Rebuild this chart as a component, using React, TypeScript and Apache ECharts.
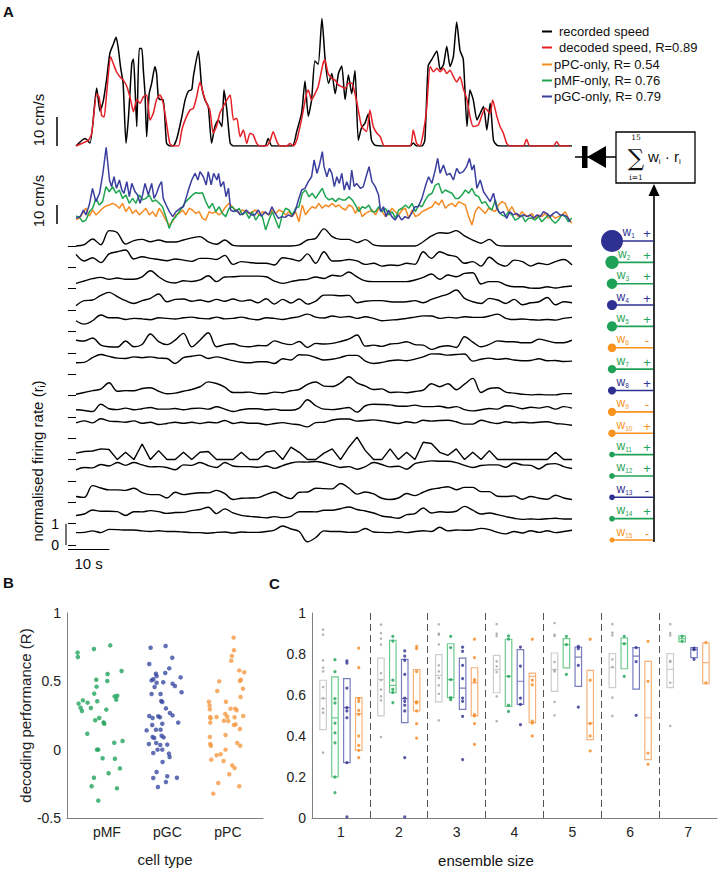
import { useEffect, useRef } from 'react';
import * as echarts from 'echarts';

const FONT = "'Liberation Sans', Arial, Helvetica, sans-serif";
const SERIF = "'DejaVu Serif', 'Liberation Serif', serif";

// ---------------- Panel A : speed traces (time s, speed cm/s) ----------------
const RECORDED_SPEED = [[0,0],[2.2,2.6],[3.4,1],[5.0,20],[5.8,12],[6.6,15.5],[7.4,23],[8.2,32],[9.0,35],[9.7,37.5],[10.2,34],[10.8,27],[11.4,21.6],[12.1,1],[12.7,10],[13.5,28.5],[13.9,30],[14.3,19.5],[14.7,6.7],[15.3,33.6],[15.9,33.6],[16.3,26],[16.7,18],[17.1,3.2],[17.7,18],[18.3,21.6],[19.1,27.4],[19.5,25],[19.9,17],[20.3,16],[21.1,16],[21.9,1],[22.7,0],[23.5,0],[24.4,2.6],[25.6,10],[26.4,15.9],[27.2,18.9],[28.0,19.5],[28.4,24],[29.6,32.8],[30.4,20.5],[31.2,15.9],[32.0,13.6],[32.8,1],[33.6,6.7],[34.4,9],[35.3,6.7],[35.8,19.3],[36.5,12.4],[37.3,1],[38.1,0],[45.7,0],[46.5,2.6],[47.4,0],[52.3,0],[53.4,5],[54.6,11.5],[55.4,22.4],[56.2,10.3],[57.0,16],[57.8,29.3],[58.6,28.2],[59.5,44],[60.3,29.3],[61.1,21.6],[61.9,25],[62.7,18],[63.5,25],[64.3,27.6],[65.1,16],[65.9,24.5],[66.7,18],[67.5,26],[68.3,2],[69.1,6.4],[69.9,7.8],[70.7,11],[71.5,2],[72.3,0.3],[74.3,0],[80.8,0],[81.6,1],[82.4,0],[83.7,0],[84.4,2],[85.2,27.6],[86.1,29.9],[87.3,32.8],[88.1,26.4],[88.9,28],[89.7,34.3],[90.5,27.4],[91.3,30.8],[92.1,42.8],[92.9,33],[93.7,29.9],[94.6,6.7],[95.3,19.3],[96.1,16],[97.0,9],[97.8,11.3],[98.6,13.6],[99.4,5.5],[100.2,14.7],[101.0,2],[101.8,0.3],[102.6,0],[120,0]];

const DECODED_SPEED = [[0,0],[3.0,2],[3.8,4.4],[5.0,18],[5.6,16.8],[6.2,10.6],[6.8,10],[7.4,18],[8.4,30.8],[9.0,28.5],[9.8,25.6],[10.6,23.9],[11.4,22.8],[12.3,20.5],[13.2,16],[13.9,11.8],[14.7,16],[15.5,14.7],[16.3,17],[17.1,17.6],[17.9,8.9],[18.7,11.3],[19.5,16],[20.3,17.6],[21.1,14.7],[21.9,7.8],[22.7,0.9],[23.5,0],[24.8,0],[25.6,5.5],[26.4,9],[27.6,12.4],[28.4,13],[29.2,17],[30.0,22.1],[30.8,18],[31.6,14.7],[32.4,12.4],[33.2,4.4],[34.0,6.7],[34.8,11.3],[35.6,13.6],[36.5,15.9],[37.3,17.6],[38.1,9],[38.9,9.6],[39.7,3.2],[40.5,5.5],[41.3,0.9],[42.1,4.4],[42.9,3.8],[43.7,0.9],[44.5,0],[46.1,0],[47.0,2],[47.7,4.9],[48.6,1.5],[49.4,0],[51.0,0],[51.8,0.9],[52.6,0],[53.4,2],[54.2,6.7],[55.0,12.4],[55.6,17],[56.2,19.3],[57.0,15.9],[57.8,18],[58.6,20.5],[59.7,28],[60.2,29.7],[61.0,25],[61.9,23.3],[62.7,22.7],[63.5,21],[64.3,20.5],[65.1,19.8],[65.9,21.6],[66.7,21.6],[67.5,18],[68.3,12.4],[69.1,6.7],[70.3,5],[71.1,12.4],[71.9,6.7],[72.8,4.4],[73.6,3.2],[74.4,0.3],[75.2,0],[80.8,0],[81.6,5.5],[82.4,0.9],[83.2,0],[84.0,4.4],[84.8,12.4],[85.7,27.4],[86.5,25.6],[87.3,26.8],[88.1,25.6],[88.9,26.8],[89.7,25],[90.5,26.1],[91.3,23.9],[92.1,22.1],[92.9,23.9],[93.7,19.8],[94.6,16],[95.3,10.3],[96.1,6.7],[97.3,7.2],[98.2,10.6],[99.0,13],[100.2,11.3],[100.8,15.9],[101.8,10.3],[102.6,6.7],[103.4,4.4],[104.2,0.9],[105.0,0],[108.2,0],[109.0,2.3],[109.8,0],[115.5,0],[116.3,1.5],[117.1,0],[119.5,0]];

// decoders using a single cell type (cm/s)
const PGC_ONLY = [[0,11.4],[1.1,12.6],[1.8,15.8],[2.4,13.2],[3.2,18.4],[4.0,27.2],[4.8,20.2],[5.7,24.6],[6.5,35.1],[7.3,48.8],[8.1,31.6],[8.6,28.1],[9.2,33.3],[9.8,27.2],[10.5,31.6],[11.1,26.3],[11.6,24.6],[12.3,30.7],[12.9,22.8],[13.5,29.8],[14.3,25.4],[14.9,23.7],[15.5,19.3],[16.1,23.7],[16.7,29.8],[17.5,23.7],[18.3,29.8],[18.9,21.9],[19.5,24.6],[20.2,28.9],[20.7,30.7],[21.1,21.9],[21.8,18.4],[22.6,14.9],[23.4,12.3],[24.2,14.9],[25.2,16.7],[26.0,17.5],[26.6,21.9],[27.2,26.3],[28.0,31.6],[28.8,35.1],[29.5,31.6],[30.0,36.0],[30.8,33.3],[31.5,29.0],[32.0,36.0],[32.7,29.0],[33.3,35.1],[34.1,31.6],[34.5,35.1],[35.0,28.1],[35.7,30.7],[36.3,22.8],[36.9,27.2],[37.4,15.8],[38.1,14.9],[38.9,15.8],[39.7,13.2],[40.5,14.0],[41.2,15.8],[42.0,14.0],[42.5,13.2],[43.3,13.2],[44.1,15.8],[44.9,12.6],[45.8,14.9],[46.6,13.2],[47.4,17.5],[48.2,14.0],[49.0,11.4],[49.8,12.3],[50.6,11.9],[51.4,13.2],[52.2,12.3],[53.0,14.9],[53.8,21.1],[54.6,26.3],[55.4,27.2],[56.2,30.7],[57.0,33.3],[57.6,42.1],[58.3,35.1],[58.9,39.5],[59.6,46.5],[60.0,38.6],[60.7,33.3],[61.3,37.7],[61.9,35.1],[62.5,28.1],[63.1,33.3],[63.7,29.8],[64.3,35.1],[64.9,26.3],[65.5,30.7],[66.2,26.3],[66.7,36.8],[67.3,28.1],[67.9,29.8],[68.8,27.2],[69.5,28.1],[70.3,34.2],[70.9,38.6],[71.6,30.7],[72.4,28.1],[73.2,23.7],[73.7,14.9],[74.4,17.5],[75.0,12.3],[75.6,15.8],[76.4,12.3],[77.2,10.5],[78.0,13.2],[78.8,10.5],[79.6,12.3],[80.4,11.4],[81.2,14.0],[82.0,17.5],[82.8,17.5],[83.7,21.9],[84.5,28.1],[85.3,33.3],[86.1,29.8],[86.9,36.8],[87.5,43.0],[88.1,35.1],[88.9,39.5],[89.7,34.2],[90.5,35.1],[91.3,31.6],[92.1,37.7],[92.8,35.1],[93.7,36.0],[94.5,38.6],[95.2,43.0],[95.8,36.8],[96.3,39.5],[97.0,27.2],[97.8,31.6],[98.6,25.4],[99.4,22.8],[100.2,20.2],[101.0,24.6],[101.8,16.7],[102.6,14.0],[103.4,14.9],[104.2,11.4],[105.0,14.9],[105.8,13.2],[106.6,14.0],[107.5,12.3],[108.3,13.2],[109.1,12.3],[109.9,13.2],[110.7,11.4],[111.5,13.2],[112.3,12.3],[113.1,14.9],[113.9,14.0],[114.7,12.3],[115.5,14.0],[116.3,14.9],[117.1,13.2],[117.9,13.2],[118.8,12.3],[119.6,9.6]];

const DECODER_STEP_S = 0.805; // sampling step of the two traces below
const PMF_ONLY = [12.6,11.9,9.6,10.5,14.9,16.7,21.9,18.4,20.2,28.1,25.4,28.1,24.6,26.3,21.9,23.7,19.3,21.9,19.3,23.7,21.1,21.9,23.7,20.2,21.1,19.3,17.5,12.3,6.1,10.5,12.3,14.9,17.5,20.2,21.9,23.7,24.9,24.6,24.9,20.2,16.7,19.3,14.9,17.5,14.0,12.3,16.7,17.5,14.9,16.7,13.2,14.9,11.4,14.9,10.5,13.2,12.3,5.3,10.5,14.9,10.5,6.1,13.2,16.7,15.8,13.2,16.7,17.5,
  24.6,26.3,22.8,24.6,21.9,24.6,27.2,22.8,21.1,21.9,20.2,21.9,21.1,21.1,22.8,21.1,18.4,14.9,17.5,16.7,18.4,14.9,14.9,17.5,14.9,16.7,13.2,14.9,11.4,15.8,16.7,18.4,16.7,19.3,14.9,18.4,17.5,21.1,23.7,24.6,28.9,29.8,24.6,26.3,25.4,24.6,21.9,21.9,23.7,26.3,24.6,27.2,23.7,22.8,19.3,20.2,17.5,15.8,21.1,14.9,13.2,12.3,14.9,13.2,10.5,11.4,13.2,9.6,11.4,11.4,10.5,12.3,9.6,11.4,13.2,10.5,8.8,10.5,13.2,12.3,9.6,11.4];
const PPC_ONLY = [10.9,11.4,14.0,16.7,12.6,15.8,13.2,14.9,16.7,17.9,18.4,19.3,18.4,16.7,19.3,14.9,17.5,14.0,15.8,13.2,14.9,16.7,13.2,14.9,12.3,16.7,14.0,10.5,7.9,9.6,13.2,14.0,15.8,13.2,16.7,15.8,14.0,14.9,11.4,10.5,14.9,14.0,14.9,13.2,14.9,17.5,19.3,17.5,15.8,14.0,15.8,14.9,14.0,14.9,15.8,13.2,14.9,14.0,13.2,15.8,14.0,15.8,14.9,13.2,14.9,12.3,14.9,9.6,
  18.4,13.2,15.8,17.5,16.7,19.3,16.7,18.4,17.5,19.3,17.5,18.4,16.7,15.8,18.4,17.5,14.0,17.5,12.3,14.0,14.9,15.8,13.2,16.7,14.9,12.3,14.0,16.7,14.9,13.2,15.8,16.7,11.4,15.8,12.3,13.2,14.9,15.8,16.7,17.5,20.2,18.4,21.1,16.7,18.4,19.3,17.5,20.2,19.3,18.4,12.3,7.9,14.9,17.5,15.8,14.0,16.7,15.8,14.9,18.4,20.2,19.3,14.9,17.5,14.0,12.3,14.9,13.2,12.3,14.0,11.4,13.2,12.3,14.0,11.4,13.2,11.4,12.3,13.2,14.9,11.4,8.8];

// normalised firing rates of the 15 cells, sampled every 2 s
const FR_TIMES = [0,2,4,6,8,10,12,14,16,18,20,22,24,26,28,30,32,34,36,38,40,42,44,46,48,50,52,54,56,58,60,62,64,66,68,70,72,74,76,78,80,82,84,86,88,90,92,94,96,98,100,102,104,106,108,110,112,114,116,118,120];
const FR1 = [0,0.06,0.33,0.06,0.72,0.62,0.09,0.25,0.31,0.2,0.28,0.19,0.19,0.28,0.38,0.44,0.19,0.08,0.28,0.03,0,0,0,0,0,0,0,0.05,0.28,0.36,0.8,0.44,0.31,0.31,0.16,0.3,0.05,0,0,0,0,0,0.2,0.47,0.62,0.6,0.72,0.47,0.28,0.13,0.31,0.03,0,0,0,0,0,0,0,0,0];
const FR2 = [0.61,0.3,0.45,0.22,0.63,0.73,0.81,0.39,0.5,0.42,0.37,0.31,0.39,0.34,0.28,0.42,0.42,0.37,0.56,0.14,0.27,0.23,0.19,0.19,0.11,0.45,0.39,0.3,0.63,0.19,0.73,0.3,0.31,0.37,0.3,0.14,0.19,0.06,0.11,0.09,0.19,0.14,0.73,0.42,0.73,0.58,0.5,0.19,0.27,0.06,0.47,0.19,0.06,0.34,0.27,0.06,0.19,0.13,0.27,0.37,0.11];
const FR3 = [0.25,0.36,0.47,0.53,0.44,0.5,0.44,0.44,0.56,0.84,0.56,0.33,0.27,0.37,0.34,0.41,0.61,0.33,0.55,0.56,0.59,0.59,0.59,0.56,0.36,0.25,0.33,0.41,0.44,0.55,0.48,0.63,0.59,0.78,0.55,0.37,0.33,0.33,0.33,0.33,0.33,0.41,0.53,0.69,0.44,0.64,0.56,0.72,0.75,0.22,0.33,0.33,0.17,0.09,0.09,0.03,0.02,0.09,0.03,0.09,0.13];
const FR4 = [0.2,0.44,0.47,0.69,0.83,0.63,0.44,0.31,0.44,0.55,0.75,0.39,0.5,0.52,0.41,0.47,0.39,0.5,0.41,0.52,0.42,0.47,0.34,0.53,0.28,0.5,0.33,0.52,0.28,0.42,0.7,0.7,0.67,0.69,0.34,0.41,0.44,0.44,0.39,0.38,0.39,0.44,0.34,0.5,0.63,0.75,0.94,0.55,0.39,0.31,0.55,0.47,0.31,0.5,0.25,0.34,0.39,0.59,0.25,0.39,0.34];
const FR5 = [0.5,0.34,0.5,0.77,0.64,0.64,0.56,0.61,0.59,0.55,0.64,0.61,0.58,0.64,0.67,0.61,0.59,0.67,0.59,0.61,0.67,0.59,0.55,0.64,0.61,0.56,0.63,0.69,0.81,0.67,0.63,0.72,0.66,0.7,0.61,0.69,0.61,0.5,0.53,0.56,0.61,0.67,0.73,0.72,0.61,0.66,0.63,0.69,0.66,0.66,0.72,0.81,0.61,0.56,0.58,0.55,0.53,0.56,0.53,0.61,0.66];
const FR6 = [0.59,0.55,0.69,0.36,0.28,0.27,0.55,0.28,0.39,0.88,0.52,0.38,0.59,0.91,0.28,0.59,0.94,0.28,0.38,0.42,0.31,0.28,0.34,0.33,0.56,0.44,0.38,0.53,0.25,0.44,0.41,0.44,0.53,0.64,0.83,0.31,0.36,0.3,0.41,0.44,0.52,0.38,0.36,0.16,0.28,0.33,0.25,0.75,0.5,0.28,0.39,0.56,0.52,0.52,0.47,0.47,0.64,0.56,0.47,0.47,0.59];
const FR7 = [0.53,0.55,0.77,0.92,0.83,0.75,0.73,0.81,0.77,0.81,0.75,0.73,0.5,0.77,0.84,0.89,0.73,0.81,0.73,0.63,0.56,0.53,0.58,0.58,0.5,0.72,0.66,0.91,0.89,0.78,0.66,0.7,0.78,0.88,0.88,0.61,0.5,0.55,0.63,0.66,0.63,0.7,0.81,0.95,0.94,0.89,0.92,0.94,0.61,0.7,0.75,0.69,0.73,0.66,0.63,0.64,0.72,0.63,0.64,0.59,0.61];
const FR8 = [0.06,0.14,0.23,0.3,0.6,0.2,0.23,0.22,0.33,0.36,0.2,0.08,0.11,0.2,0.28,0.41,0.64,0.56,0.39,0.14,0.14,0.16,0.09,0.08,0.16,0.13,0.22,0.28,0.52,0.63,0.44,0.42,0.59,0.88,0.59,0.44,0.28,0.31,0.14,0.16,0.13,0.19,0.25,0.55,0.41,0.55,0.27,0.53,0.8,0.14,0.33,0.36,0.16,0.11,0.06,0.03,0.05,0.03,0.03,0.09,0.09];
const FR9 = [0.33,0.3,0.25,0.59,0.38,0.34,0.41,0.33,0.38,0.44,0.36,0.36,0.39,0.33,0.39,0.41,0.36,0.47,0.36,0.25,0.33,0.38,0.38,0.33,0.36,0.31,0.31,0.41,0.8,0.52,0.36,0.34,0.38,0.44,0.22,0.52,0.59,0.58,0.56,0.5,0.5,0.55,0.48,0.48,0.5,0.42,0.48,0.34,0.28,0.33,0.39,0.36,0.52,0.48,0.38,0.45,0.41,0.48,0.36,0.48,0.41];
const FR10 = [0.72,0.81,0.72,0.91,0.8,0.78,0.75,0.81,0.7,0.75,0.64,0.69,0.75,0.7,0.75,0.69,0.75,0.72,0.83,0.69,0.75,0.7,0.7,0.63,0.69,0.73,0.67,0.63,0.53,0.73,0.75,0.85,0.9,0.9,0.8,0.83,0.86,0.81,0.75,0.69,0.77,0.72,0.84,0.8,0.83,0.84,0.77,0.66,0.66,0.84,0.75,0.69,0.77,0.72,0.75,0.72,0.75,0.77,0.69,0.66,0.61];
const FR11 = [0.3,0.38,0.4,0.5,0.47,0,0.34,0,0.73,0,0.42,0,0,0.34,0,0.34,0.38,0,0,0,0.34,0,0,0.34,0.42,0,0.58,0.34,0,0,0.3,0.5,0,0.58,1.05,0.42,0,0,0.5,0,0.34,0,0.81,0.75,0.34,0.2,0.5,0,0.34,0,0.42,0,0,0,0,0,0,0,0.34,0,0];
const FR12 = [0.52,0.63,0.61,0.77,0.7,0.86,0.73,0.86,0.75,0.66,0.67,0.63,0.52,0.75,0.73,0.86,0.72,0.63,0.86,0.7,0.67,0.67,0.64,0.7,0.59,0.72,0.84,0.89,0.88,0.91,0.84,0.73,0.63,0.67,0.55,0.67,0.86,0.77,0.66,0.69,0.55,0.81,0.89,0.94,0.92,0.92,0.86,0.73,0.63,0.72,0.75,0.75,0.64,0.84,0.75,0.73,0.56,0.78,0.81,0.67,0.58];
const FR13 = [0.27,0.23,0.78,0.67,0.58,0.58,0.56,0.66,0.45,0.36,0.36,0.2,0.47,0.36,0.41,0.45,0.44,0.56,0.41,0.13,0.19,0.2,0.22,0.36,0.48,0.3,0.17,0.47,0.48,0.66,0.64,0.63,0.88,0.67,0.38,0.48,0.39,0.19,0.13,0.2,0.41,0.31,0.47,0.61,0.67,0.73,0.59,0.7,0.7,0.5,0.5,0.28,0.27,0.3,0.14,0.27,0.19,0.14,0.33,0.2,0.13];
const FR14 = [0.38,0.45,0.64,0.58,0.58,0.56,0.38,0.56,0.55,0.61,0.56,0.48,0.52,0.53,0.61,0.66,0.77,0.47,0.69,0.5,0.39,0.34,0.31,0.27,0.33,0.28,0.34,0.56,0.56,0.55,0.63,0.63,0.7,0.78,0.66,0.59,0.5,0.36,0.31,0.25,0.42,0.47,0.73,0.5,0.56,0.53,0.58,0.81,0.63,0.45,0.5,0.42,0.33,0.25,0.2,0.22,0.2,0.23,0.25,0.22,0.22];
const FR15 = [0.58,0.59,0.66,0.58,0.73,0.72,0.7,0.7,0.66,0.63,0.67,0.63,0.63,0.61,0.58,0.58,0.55,0.59,0.61,0.56,0.61,0.59,0.59,0.63,0.7,0.89,0.75,0.63,0.15,0.35,0.66,0.63,0.63,0.59,0.61,0.77,0.61,0.59,0.58,0.63,0.58,0.63,0.67,0.63,0.83,0.66,0.7,0.69,0.7,0.78,0.72,0.59,0.52,0.63,0.56,0.67,0.59,0.67,0.58,0.63,0.69];
const FIRING_RATES = [FR1, FR2, FR3, FR4, FR5, FR6, FR7, FR8, FR9, FR10, FR11, FR12, FR13, FR14, FR15];
const SPIKY_CELLS = [11];

// decoder weights (relative magnitude, sign, cell type)
const WEIGHT_MAGNITUDES = [1.0, 0.6, 0.48, 0.46, 0.46, 0.39, 0.38, 0.37, 0.37, 0.34, 0.26, 0.26, 0.26, 0.26, 0.23];
const WEIGHT_SIGNS = ['+', '+', '+', '+', '+', '-', '+', '+', '-', '+', '+', '+', '-', '+', '-'];
const WEIGHT_TYPES = ['pGC', 'pMF', 'pMF', 'pGC', 'pMF', 'pPC', 'pMF', 'pGC', 'pPC', 'pPC', 'pMF', 'pMF', 'pGC', 'pMF', 'pPC'];

const NAME_REC = 'recorded speed';
const NAME_DEC = 'decoded speed, R=0.89';
const NAME_PPC = 'pPC-only, R= 0.54';
const NAME_PMF = 'pMF-only, R= 0.76';
const NAME_PGC = 'pGC-only, R= 0.79';

// ---------------- Panel B : single-cell decoding performance ----------------
const CELL_TYPES = ['pMF', 'pGC', 'pPC'];
const B_PMF = [[0.515,0.71],[0.52,0.678],[0.785,0.737],[1.055,0.763],[1.242,0.576],[1.011,0.554],[0.824,0.512],[0.829,0.461],[1.006,0.502],[0.79,0.41],[1.127,0.39],[1.171,0.395],[1.154,0.366],[0.531,0.337],[0.603,0.361],[0.565,0.307],[0.587,0.283],[0.735,0.305],[0.84,0.354],[0.68,0.344],[0.989,0.293],[0.807,0.215],[0.873,0.232],[0.945,0.2],[0.956,0.19],[0.675,0.117],[1.121,0.051],[1.259,0.063],[0.835,0],[0.857,0],[0.928,-0.063],[1.132,-0.066],[0.785,-0.205],[1.028,-0.173],[1.215,-0.137],[0.747,-0.268],[1.165,-0.283],[0.857,-0.373]];
const B_PGC = [[1.722,0.746],[1.97,0.759],[2.08,0.673],[1.7,0.627],[2.03,0.595],[1.81,0.556],[1.964,0.561],[1.821,0.539],[1.766,0.515],[1.738,0.507],[1.821,0.49],[1.788,0.459],[1.931,0.493],[2.085,0.483],[2.124,0.466],[2.218,0.529],[2.234,0.42],[1.738,0.407],[1.887,0.407],[1.898,0.356],[1.915,0.349],[1.975,0.302],[1.7,0.246],[1.755,0.232],[1.848,0.244],[1.876,0.237],[2.041,0.268],[2.085,0.251],[2.178,0.198],[1.749,0.18],[1.915,0.19],[1.656,0.141],[1.81,0.146],[1.887,0.146],[1.904,0.102],[1.755,0.093],[1.782,0.085],[1.937,0.09],[1.694,0.041],[1.815,0.049],[1.882,0.034],[1.997,0.037],[1.837,0],[1.915,0],[1.766,-0.024],[2.025,-0.029],[2.036,-0.054],[1.92,-0.09],[1.821,-0.163],[2.157,-0.205],[1.766,-0.207],[1.997,-0.195],[1.975,-0.237],[1.843,-0.273]];
const B_PPC = [[3.094,0.82],[3.1,0.727],[3.066,0.685],[3.055,0.651],[3.187,0.58],[3.27,0.566],[2.857,0.5],[3.215,0.512],[3.198,0.502],[3.248,0.446],[2.824,0.429],[3.209,0.385],[2.686,0.351],[2.697,0.322],[2.967,0.351],[3.044,0.3],[3.121,0.3],[3.143,0.288],[2.702,0.295],[2.708,0.239],[2.713,0.229],[2.708,0.198],[2.813,0.239],[2.989,0.241],[2.956,0.261],[3.11,0.237],[3.253,0.246],[3.006,0.21],[2.934,0.212],[3.127,0.185],[3.099,0.18],[3.198,0.151],[2.702,0.093],[2.961,0.107],[3.154,0.049],[3.204,0.029],[2.719,0.029],[2.708,0.041],[2.813,-0.041],[2.879,-0.034],[2.961,0],[2.725,-0.073],[2.928,-0.083],[3.072,-0.115],[3.11,-0.134],[3.022,-0.18],[2.84,-0.244],[3.187,-0.268],[2.758,-0.322]];

// ---------------- Panel C : ensemble decoding performance ----------------
const ENSEMBLE_SIZES = [1, 2, 3, 4, 5, 6, 7];
const C_GROUPS = ['mixed', 'pMF', 'pGC', 'pPC'];
// [q1, median, q3] per ensemble size
const BOX_MIXED = [[0.431,0.582,0.672],[0.498,0.676,0.78],[0.566,0.696,0.797],[0.611,0.724,0.793],[0.618,0.725,0.805],[0.636,0.733,0.802],[0.636,0.725,0.802]];
const BOX_PMF = [[0.2,0.488,0.688],[0.611,0.647,0.867],[0.587,0.675,0.85],[0.545,0.691,0.872],[0.732,0.846,0.875],[0.728,0.85,0.878],[0.859,0.875,0.888]];
const BOX_PGC = [[0.27,0.538,0.68],[0.465,0.582,0.774],[0.53,0.634,0.78],[0.554,0.667,0.821],[0.642,0.785,0.834],[0.629,0.79,0.831],[0.782,0.821,0.831]];
const BOX_PPC = [[0.33,0.509,0.587],[0.522,0.566,0.724],[0.498,0.659,0.733],[0.465,0.691,0.707],[0.382,0.463,0.72],[0.285,0.489,0.764],[0.655,0.758,0.855]];
const DOTS_MIXED = [[0.919,0.894,0.769,0.733,0.715,0.639,0.585,0.533,0.514,0.319],[0.943,0.902,0.875,0.846,0.707,0.672,0.626,0.593,0.574,0.395],[0.945,0.899,0.894,0.847,0.745,0.715,0.683,0.647,0.606,0.476],[0.946,0.899,0.888,0.764,0.74,0.712,0.593,0.472],[0.951,0.894,0.888,0.761,0.72,0.715,0.566,0.501],[0.946,0.904,0.891,0.774,0.737,0.587,0.498],[0.946,0.902,0.891,0.766,0.761,0.66,0.449]];
const DOTS_PMF = [[0.772,0.714,0.582,0.561,0.463,0.415,0.367,0.2,0.124],[0.886,0.863,0.672,0.628,0.613,0.563],[0.886,0.831,0.675,0.587,0.577],[0.888,0.873,0.691,0.55,0.52],[0.886,0.846,0.701],[0.886,0.85,0.691],[0.886,0.863]];
const DOTS_PGC = [[0.766,0.756,0.634,0.538,0.522,0.489,0.27,0.005],[0.815,0.79,0.769,0.701,0.585,0.569,0.55,0.522,0.294,0.005],[0.833,0.813,0.745,0.68,0.585,0.569,0.496,0.285],[0.834,0.741,0.585,0.554,0.455],[0.837,0.826,0.745,0.541],[0.831,0.763,0.501],[0.829,0.821,0.774]];
const DOTS_PPC = [[0.829,0.733,0.582,0.569,0.525,0.506,0.4,0.354,0.33,0.294],[0.837,0.826,0.714,0.566,0.561,0.522,0.46,0.39],[0.872,0.782,0.675,0.667,0.504,0.498,0.46,0.359],[0.872,0.672,0.65,0.472,0.463,0.4],[0.872,0.672,0.46,0.4,0.327],[0.862,0.667,0.317,0.262],[0.855,0.659]];

// ---------------- styles ----------------
const TYPE_COLORS = { pMF: '#1fa257', pGC: '#2e3192', pPC: '#f7931e', mixed: '#9d9d9d' };
const TRACE_COLORS = { pMF: '#1fa450', pGC: '#3a3e9e', pPC: '#f58a22' };
const B_COLORS = { pMF: '#22a35c', pGC: '#3a4ba2', pPC: '#f49a45' };
const BOX_COLORS = { mixed: '#cdcdcd', pMF: '#6fca8e', pGC: '#787cbf', pPC: '#f7b27b' };
const DOT_COLORS = { mixed: '#a3a3a3', pMF: '#1fa257', pGC: '#2e3192', pPC: '#f58a22' };
const C_OFFSETS = [-0.308, -0.103, 0.103, 0.308];
const TRACE_GAP = 1; // vertical spacing of stacked firing-rate traces (normalised units)

export default function App() {
  const ref = useRef(null);
  useEffect(() => {
    const chart = echarts.init(ref.current, null, { renderer: 'svg' });
    const nCells = FIRING_RATES.length;
    const axisGray = { show: true, onZero: false, lineStyle: { color: '#7f7f7f', width: 1 } };
    const tickLabel = { fontSize: 14, color: '#222', fontFamily: FONT };

    const firingSeries = FIRING_RATES.map((vals, k) => ({
      type: 'line', name: 'r' + (k + 1), xAxisIndex: 2, yAxisIndex: 2,
      data: vals.map((v, i) => [FR_TIMES[i], v + (nCells - 1 - k) * TRACE_GAP]),
      showSymbol: false, clip: false, silent: true,
      smooth: SPIKY_CELLS.includes(k + 1) ? false : 0.35,
      lineStyle: { color: '#000', width: 1.4 }, itemStyle: { color: '#000' },
    }));

    const boxSeries = [BOX_MIXED, BOX_PMF, BOX_PGC, BOX_PPC].map((box, g) => ({
      type: 'boxplot', name: 'box-' + C_GROUPS[g], xAxisIndex: 5, yAxisIndex: 5, silent: true,
      boxWidth: [6.5, 6.5],
      data: box.map(([q1, m, q3]) => [q1, q1, m, q3, q3]),
      itemStyle: { color: 'rgba(255,255,255,0)', borderColor: BOX_COLORS[C_GROUPS[g]], borderWidth: 1.2 },
    }));

    const dotSeries = [DOTS_MIXED, DOTS_PMF, DOTS_PGC, DOTS_PPC].map((dots, g) => {
      const data = [];
      dots.forEach((vals, s) => vals.forEach((v) => data.push([ENSEMBLE_SIZES[s] + C_OFFSETS[g], v])));
      const ser = {
        type: 'scatter', name: 'dots-' + C_GROUPS[g], xAxisIndex: 6, yAxisIndex: 5, silent: true,
        data, symbolSize: g === 0 ? 2.6 : 3.2,
        itemStyle: { color: DOT_COLORS[C_GROUPS[g]] },
      };
      if (g === 0) {
        ser.markLine = {
          silent: true, symbol: ['none', 'none'], label: { show: false },
          lineStyle: { color: '#555', width: 1, type: [7, 4] },
          data: ENSEMBLE_SIZES.slice(1).map((s) => ({ xAxis: s - 0.5 })),
        };
      }
      return ser;
    });

    const bSeries = [B_PMF, B_PGC, B_PPC].map((pts, c) => ({
      type: 'scatter', name: CELL_TYPES[c], xAxisIndex: 4, yAxisIndex: 4, silent: true,
      data: pts, symbolSize: 4.5, itemStyle: { color: B_COLORS[CELL_TYPES[c]] },
    }));

    const weightSeries = {
      type: 'custom', name: 'weights', xAxisIndex: 3, yAxisIndex: 3, clip: false, silent: true,
      data: WEIGHT_MAGNITUDES.map((m, i) => [i + 1, m]),
      renderItem: (params, api) => {
        const i = params.dataIndex;
        const idx = api.value(0);
        const mag = api.value(1);
        const p0 = api.coord([0, idx]);
        const p1 = api.coord([1, idx]);
        const color = TYPE_COLORS[WEIGHT_TYPES[i]];
        const r = mag * 11;
        return {
          type: 'group',
          children: [
            { type: 'line', shape: { x1: p0[0], y1: p0[1], x2: p1[0], y2: p0[1] }, style: { stroke: color, lineWidth: 1.6 } },
            { type: 'circle', shape: { cx: p0[0], cy: p0[1], r }, style: { fill: color } },
            {
              type: 'text', x: p0[0] + Math.max(r, 5) - 0.5, y: p0[1] - 1.5,
              style: {
                text: '{w|w}{s|' + idx + '}', align: 'left', verticalAlign: 'bottom', fill: color,
                rich: {
                  w: { fontSize: 12, lineHeight: 13, fontFamily: FONT, fill: color, verticalAlign: 'top' },
                  s: { fontSize: 6.5, lineHeight: 7, fontFamily: FONT, fill: color, verticalAlign: 'bottom' },
                },
              },
            },
            {
              type: 'text', x: p1[0] - 6, y: p1[1] - 0.5,
              style: { text: WEIGHT_SIGNS[i], fill: color, fontSize: 13, fontFamily: FONT, align: 'center', verticalAlign: 'bottom' },
            },
          ],
        };
      },
    };

    const legendBase = {
      orient: 'vertical', left: 537, itemWidth: 10, itemHeight: 2, itemGap: 3, icon: 'rect',
      selectedMode: false, textStyle: { fontSize: 13, fontFamily: FONT, color: '#111' },
    };

    chart.setOption({
      animation: false,
      textStyle: { fontFamily: FONT },
      legend: [
        { ...legendBase, top: 20, data: [NAME_REC, NAME_DEC], textStyle: { ...legendBase.textStyle, padding: [0, 0, 0, 2] } },
        { ...legendBase, top: 53, data: [NAME_PPC, NAME_PMF, NAME_PGC], textStyle: { ...legendBase.textStyle, padding: [0, 0, 0, -3] } },
      ],
      grid: [
        { left: 76, top: 6.8, width: 496, height: 139.2, outerBoundsMode: 'none' },
        { left: 76, top: 141.2, width: 496, height: 98.8, outerBoundsMode: 'none' },
        { left: 76, top: 246, width: 496, height: 299, outerBoundsMode: 'none' },
        { left: 612, top: 230.3, width: 41, height: 320.4, outerBoundsMode: 'none' },
        { left: 67, top: 613, width: 196, height: 205, outerBoundsMode: 'none' },
        { left: 312, top: 613, width: 405, height: 205, outerBoundsMode: 'none' },
      ],
      xAxis: [
        { gridIndex: 0, type: 'value', min: 0, max: 120, show: false },
        { gridIndex: 1, type: 'value', min: 0, max: 120, show: false },
        { gridIndex: 2, type: 'value', min: 0, max: 120, show: false },
        { gridIndex: 3, type: 'value', min: 0, max: 1, show: false },
        {
          gridIndex: 4, type: 'value', min: 0.34, max: 3.58, axisLine: axisGray, axisTick: { show: false }, splitLine: { show: false },
          axisLabel: { ...tickLabel, margin: 7, customValues: [1, 2, 3], formatter: (v) => (Number.isInteger(v) ? CELL_TYPES[v - 1] || '' : '') },
          name: 'cell type', nameLocation: 'middle', nameGap: 34, nameTextStyle: { fontSize: 15, color: '#222', fontFamily: FONT },
        },
        {
          gridIndex: 5, type: 'category', data: ENSEMBLE_SIZES.map(String), axisLine: axisGray, axisTick: { show: false },
          axisLabel: { ...tickLabel, margin: 7 }, splitLine: { show: false },
        },
        { gridIndex: 5, type: 'value', min: 0.5, max: 7.5, show: false, position: 'top' },
      ],
      yAxis: [
        { gridIndex: 0, type: 'value', min: 0, max: 48, show: false },
        { gridIndex: 1, type: 'value', min: 0, max: 52, show: false },
        {
          gridIndex: 2, type: 'value', min: 0, max: (nCells - 1) * TRACE_GAP, interval: TRACE_GAP, offset: 10,
          axisLine: { show: false }, splitLine: { show: false },
          axisTick: { show: true, length: 8, lineStyle: { color: '#000', width: 1 } },
          axisLabel: { ...tickLabel, color: '#000', margin: 7, formatter: (v) => (v === 0 ? '0' : v === 1 ? '1' : '') },
        },
        { gridIndex: 3, type: 'value', min: 0.5, max: 15.5, inverse: true, show: false },
        {
          gridIndex: 4, type: 'value', min: -0.5, max: 1, interval: 0.5, axisLine: axisGray, axisTick: { show: false }, splitLine: { show: false },
          axisLabel: { ...tickLabel, margin: 6 },
          name: 'decoding performance (R)', nameLocation: 'middle', nameGap: 32, nameTextStyle: { fontSize: 15, color: '#222', fontFamily: FONT },
        },
        {
          gridIndex: 5, type: 'value', min: 0, max: 1, interval: 0.2, axisLine: axisGray, axisTick: { show: false }, splitLine: { show: false },
          axisLabel: { ...tickLabel, margin: 6, formatter: (v) => (v === 0 || v === 1 ? String(v) : v.toFixed(1)) },
        },
      ],
      series: [
        { type: 'line', name: NAME_REC, xAxisIndex: 0, yAxisIndex: 0, data: RECORDED_SPEED, showSymbol: false, silent: true, smooth: 0.2, lineStyle: { color: '#000', width: 1.5 }, itemStyle: { color: '#000' } },
        { type: 'line', name: NAME_DEC, xAxisIndex: 0, yAxisIndex: 0, data: DECODED_SPEED, showSymbol: false, silent: true, smooth: 0.2, lineStyle: { color: '#e41f26', width: 1.5 }, itemStyle: { color: '#e41f26' } },
        { type: 'line', name: NAME_PPC, xAxisIndex: 1, yAxisIndex: 1, data: PPC_ONLY.map((v, i) => [i * DECODER_STEP_S, v]), showSymbol: false, silent: true, lineStyle: { color: TRACE_COLORS.pPC, width: 1.5 }, itemStyle: { color: TRACE_COLORS.pPC } },
        { type: 'line', name: NAME_PMF, xAxisIndex: 1, yAxisIndex: 1, data: PMF_ONLY.map((v, i) => [i * DECODER_STEP_S, v]), showSymbol: false, silent: true, lineStyle: { color: TRACE_COLORS.pMF, width: 1.5 }, itemStyle: { color: TRACE_COLORS.pMF } },
        { type: 'line', name: NAME_PGC, xAxisIndex: 1, yAxisIndex: 1, data: PGC_ONLY, showSymbol: false, silent: true, lineStyle: { color: TRACE_COLORS.pGC, width: 1.5 }, itemStyle: { color: TRACE_COLORS.pGC } },
        ...firingSeries,
        weightSeries,
        ...bSeries,
        ...boxSeries,
        ...dotSeries,
      ],
    });

    // annotations positioned from the axes' own scales
    const px = (g, p) => chart.convertToPixel({ gridIndex: g }, p);
    const s0 = px(0, [0, 0]);
    const s10 = px(0, [0, 10]);
    const d0 = px(1, [0, 8.4]);
    const d10 = px(1, [0, 18.4]);
    const f0 = px(2, [0, 0]);
    const f1 = px(2, [0, 1]);
    const f10 = px(2, [10, 0]);
    const barX = s0[0] - 19;
    const bracketX = f0[0] - 10;
    const line = (x1, y1, x2, y2, w = 1.3, color = '#000') => ({ type: 'line', silent: true, shape: { x1, y1, x2, y2 }, style: { stroke: color, lineWidth: w } });
    const txt = (text, x, y, opts = {}) => ({
      type: 'text', silent: true, x, y, rotation: opts.rotation || 0,
      style: { text, fill: opts.color || '#111', fontSize: opts.size || 15, fontFamily: opts.family || FONT, fontWeight: opts.weight || 'normal', align: opts.align || 'center', verticalAlign: opts.valign || 'middle', rich: opts.rich },
    });

    chart.setOption({
      graphic: [
        txt('A', 3, 11, { size: 15, weight: 'bold', align: 'left' }),
        txt('B', 3, 582, { size: 15, weight: 'bold', align: 'left' }),
        txt('C', 269, 583, { size: 15, weight: 'bold', align: 'left' }),
        line(barX, s0[1], barX, s10[1], 1.5),
        txt('10 cm/s', 38, 120, { rotation: Math.PI / 2 }),
        line(barX, d0[1], barX, d10[1], 1.5),
        txt('10 cm/s', 38, 201, { rotation: Math.PI / 2 }),
        line(bracketX, f0[1], bracketX, f1[1], 1.1),
        line(f0[0] - 8, f0[1] + 4.5, f10[0] - 8, f0[1] + 4.5, 1.1),
        txt('10 s', (f0[0] + f10[0]) / 2 - 8, 563),
        txt('{a|normalised firing rate (r}{b|i}{a|)}', 38, 461, {
          rotation: Math.PI / 2,
          rich: { a: { fontSize: 15, fontFamily: FONT, fill: '#111', lineHeight: 17, verticalAlign: 'top' }, b: { fontSize: 9, fontFamily: FONT, fill: '#111', lineHeight: 10, verticalAlign: 'bottom' } },
        }),
        // summation box and arrows of the decoder diagram
        { type: 'rect', silent: true, shape: { x: 616, y: 132, width: 79, height: 51 }, style: { fill: '#fff', stroke: '#000', lineWidth: 1.3 } },
        txt('∑', 636, 157.5, { size: 23, family: SERIF }),
        txt('15', 636, 137, { size: 7.5, family: SERIF }),
        txt('i=1', 636, 177, { size: 7.5, family: SERIF }),
        txt('{a|w}{b|i}{a| · r}{b|i}', 648, 157, {
          align: 'left',
          rich: { a: { fontSize: 15, fontFamily: FONT, fill: '#111', lineHeight: 17, verticalAlign: 'top' }, b: { fontSize: 8, fontFamily: FONT, fill: '#111', lineHeight: 9, verticalAlign: 'bottom' } },
        }),
        line(575, 157, 616, 157, 1.6),
        { type: 'rect', silent: true, shape: { x: 582, y: 146, width: 5.5, height: 22 }, style: { fill: '#000' } },
        { type: 'polygon', silent: true, shape: { points: [[587, 157], [606, 146], [606, 168]] }, style: { fill: '#000' } },
        line(654, 542, 654, 192, 1.6),
        { type: 'polygon', silent: true, shape: { points: [[654, 184], [648.5, 196], [659.5, 196]] }, style: { fill: '#000' } },
        txt('ensemble size', 486, 860),
      ],
    });

    return () => chart.dispose();
  }, []);
  return <div ref={ref} style={{ width: 720, height: 869, position: 'absolute', left: 0, top: 0, background: '#fff' }} />;
}
